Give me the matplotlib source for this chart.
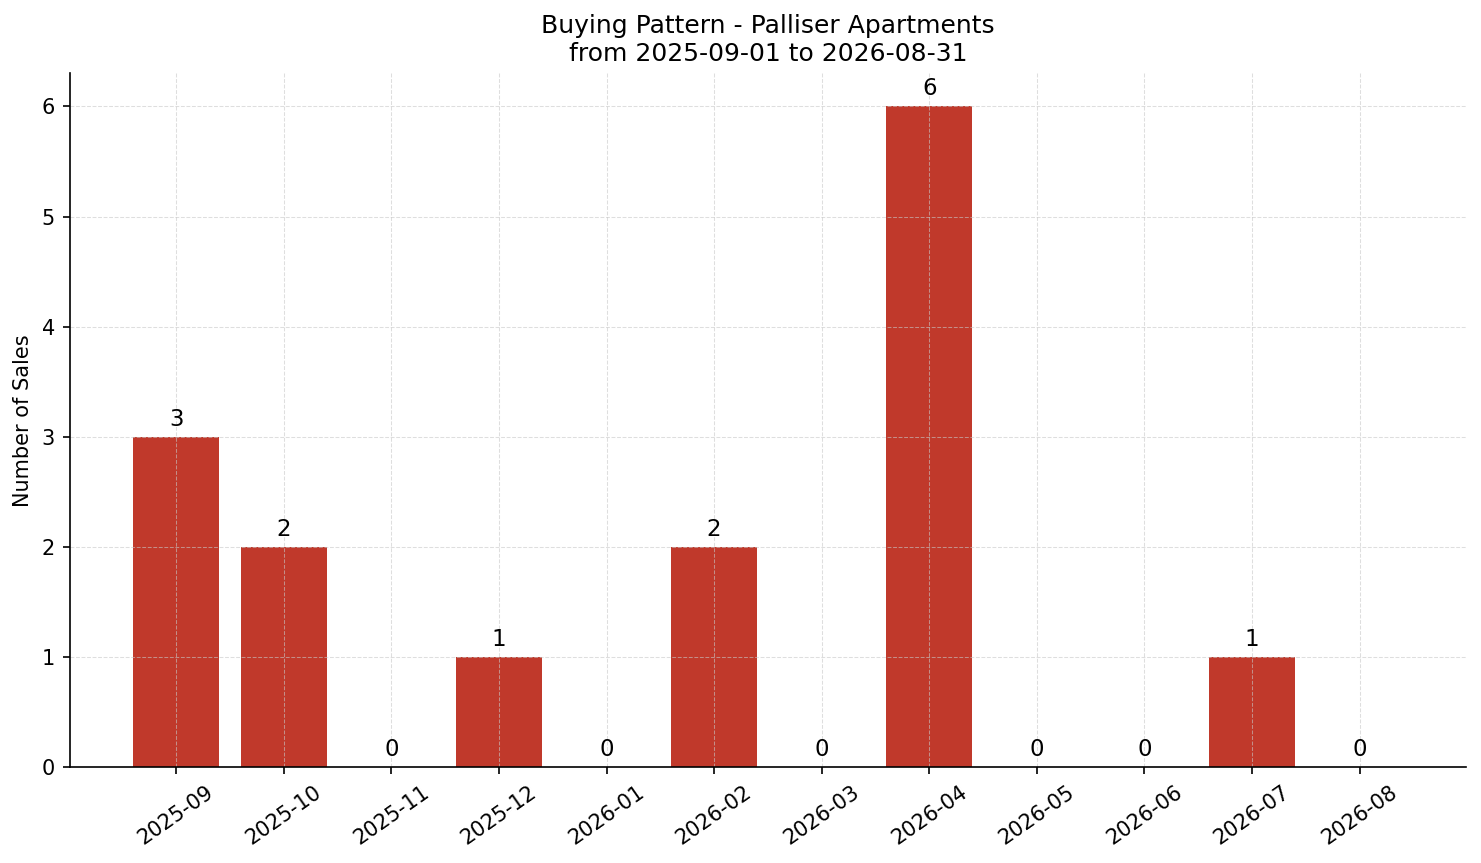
import matplotlib
matplotlib.use("Agg")
import matplotlib.pyplot as plt

months = ["2025-09", "2025-10", "2025-11", "2025-12", "2026-01", "2026-02",
          "2026-03", "2026-04", "2026-05", "2026-06", "2026-07", "2026-08"]
sales = [3, 2, 0, 1, 0, 2, 0, 6, 0, 0, 1, 0]

DPI = 150
fig, ax = plt.subplots(figsize=(1481 / DPI, 863 / DPI), dpi=DPI)
x = list(range(len(months)))
bars = ax.bar(x, sales, width=0.8, color="#c0392b")
for xi, v in zip(x, sales):
    ax.annotate(str(v), (xi, v), xytext=(0, 3), textcoords="offset points",
                ha="center", va="bottom", fontsize=11)
ax.set_xticks(x)
ax.set_xticklabels(months, rotation=35, ha="center", fontsize=10)
ax.tick_params(axis="y", labelsize=10)
ax.set_ylabel("Number of Sales", fontsize=10)
ax.set_title("Buying Pattern - Palliser Apartments\nfrom 2025-09-01 to 2026-08-31", fontsize=12)
ax.grid(True, linestyle="--", linewidth=0.5, alpha=0.6, color="#c8c8c8")
ax.spines["top"].set_visible(False)
ax.spines["right"].set_visible(False)
fig.subplots_adjust(left=0.047, right=0.99, top=0.915, bottom=0.111)
fig.savefig("out.png", dpi=DPI)
